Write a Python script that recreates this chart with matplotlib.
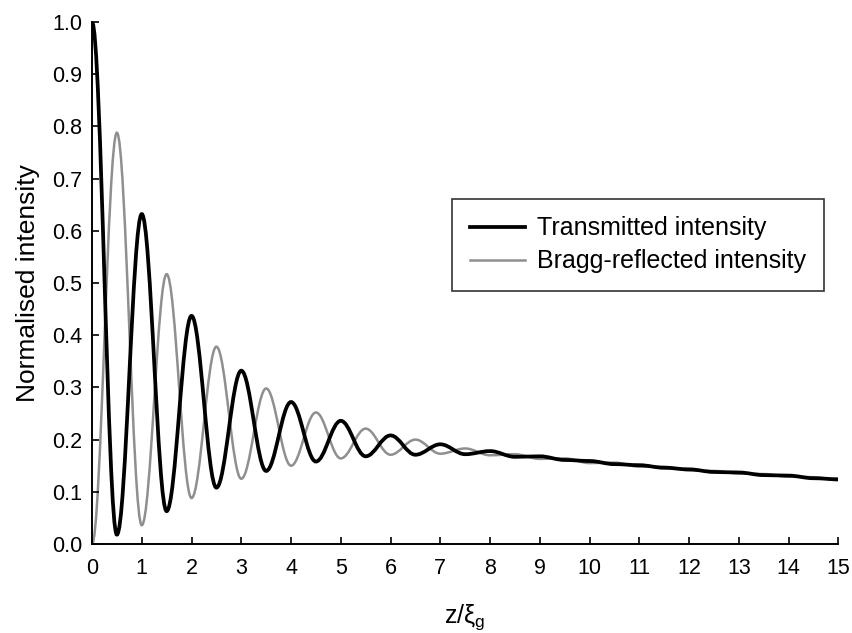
import numpy as np
import matplotlib

matplotlib.use("Agg")
import matplotlib.pyplot as plt
from matplotlib.lines import Line2D
from matplotlib.patches import PathPatch
from matplotlib.path import Path

plt.rcParams["font.family"] = ["Liberation Sans", "DejaVu Sans"]
plt.rcParams["mathtext.fontset"] = "custom"
plt.rcParams["mathtext.rm"] = "Liberation Sans"
plt.rcParams["mathtext.it"] = "Liberation Sans"

# depth z/xi_g at which each extremum sits (every half extinction distance)
z_extrema = [i * 0.5 for i in range(31)]

# intensity at each extremum
transmitted = [1.000, 0.018, 0.632, 0.063, 0.437, 0.108, 0.332, 0.140, 0.272, 0.158,
               0.236, 0.168, 0.208, 0.171, 0.191, 0.172, 0.178, 0.167, 0.168, 0.161,
               0.159, 0.153, 0.151, 0.146, 0.143, 0.138, 0.137, 0.132, 0.131, 0.126,
               0.124]
reflected = [0.000, 0.788, 0.036, 0.517, 0.088, 0.378, 0.125, 0.298, 0.150, 0.252,
             0.164, 0.221, 0.171, 0.200, 0.173, 0.183, 0.170, 0.172, 0.163, 0.164,
             0.155, 0.156, 0.148, 0.148, 0.141, 0.140, 0.135, 0.134, 0.129, 0.128,
             0.122]

x_ticks = list(range(16))
y_ticks = [i / 10 for i in range(11)]


def extrema_path(xs, ys):
    # cubic bezier between neighbouring extrema, flat tangent at each one
    k = (np.pi - 2) / np.pi
    verts = [(xs[0], ys[0])]
    codes = [Path.MOVETO]
    for x0, y0, x1, y1 in zip(xs[:-1], ys[:-1], xs[1:], ys[1:]):
        dx = x1 - x0
        verts += [(x0 + k * dx, y0), (x1 - k * dx, y1), (x1, y1)]
        codes += [Path.CURVE4] * 3
    return Path(verts, codes)


fig = plt.figure(figsize=(8.52, 6.33), dpi=100)
ax = fig.add_axes([0.108, 0.1406, 0.876, 0.8246])

t_style = dict(color="black", linewidth=2.7)
r_style = dict(color="#8f8f8f", linewidth=1.8)

ax.add_patch(PathPatch(extrema_path(z_extrema, reflected), fill=False,
                       transform=ax.transData, **r_style))
ax.add_patch(PathPatch(extrema_path(z_extrema, transmitted), fill=False,
                       transform=ax.transData, **t_style))

ax.set_xlim(0, 15)
ax.set_ylim(0, 1.0)
ax.set_xticks(x_ticks)
ax.set_yticks(y_ticks)
ax.set_yticklabels([f"{v:.1f}" for v in y_ticks])

for side in ("top", "right"):
    ax.spines[side].set_visible(False)
for side in ("left", "bottom"):
    ax.spines[side].set_linewidth(1.4)

ax.tick_params(direction="in", length=5, width=1.2, labelsize=15.5)
ax.tick_params(axis="y", pad=7)
ax.tick_params(axis="x", pad=10)

ax.set_ylabel("Normalised intensity", fontsize=19, labelpad=9)
ax.set_xlabel(r"z/$\mathrm{\xi_g}$", fontsize=18, labelpad=17)

handles = [Line2D([], [], label="Transmitted intensity", **t_style),
           Line2D([], [], label="Bragg-reflected intensity", **r_style)]
leg = ax.legend(handles=handles, loc="upper left", bbox_to_anchor=(0.4826, 0.661),
                borderaxespad=0, fontsize=18, frameon=True, fancybox=False,
                handlelength=2.2, handletextpad=0.5, labelspacing=0.36,
                borderpad=0.7)
leg.get_frame().set_edgecolor("black")
leg.get_frame().set_linewidth(1.2)

fig.savefig("out.png", dpi=100)
